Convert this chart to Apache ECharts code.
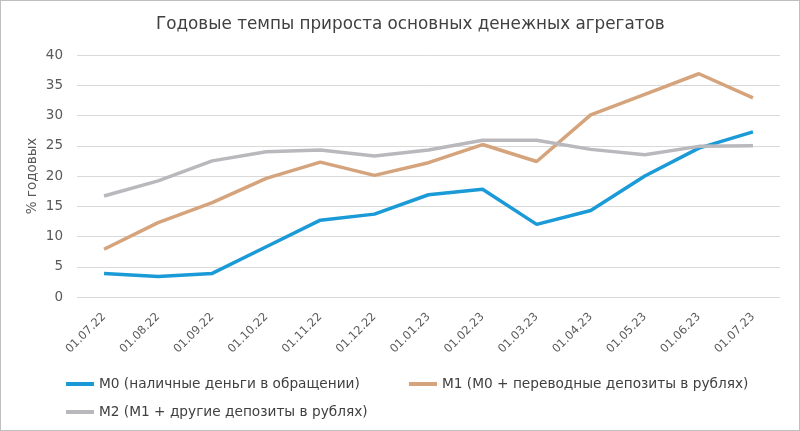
<!DOCTYPE html>
<html><head><meta charset="utf-8">
<script src="https://cdn.jsdelivr.net/npm/echarts@6/dist/echarts.min.js"></script>
<style>html,body{margin:0;padding:0;background:#fff}#c{width:798px;height:429px;border:1px solid #bfbfbf}</style>
</head><body><div id="c"></div>
<script>
const categories = ['01.07.22','01.08.22','01.09.22','01.10.22','01.11.22','01.12.22','01.01.23','01.02.23','01.03.23','01.04.23','01.05.23','01.06.23','01.07.23'];
const m0 = [3.9, 3.4, 3.9, 8.3, 12.7, 13.7, 16.9, 17.8, 12.0, 14.3, 20.0, 24.6, 27.3];
const m1 = [7.9, 12.3, 15.6, 19.6, 22.3, 20.1, 22.2, 25.2, 22.4, 30.1, 33.5, 36.9, 32.9];
const m2 = [16.7, 19.2, 22.5, 24.0, 24.3, 23.3, 24.3, 25.9, 25.9, 24.4, 23.5, 24.9, 25.0];
const names = ['M0 (наличные деньги в обращении)','M1 (M0 + переводные депозиты в рублях)','M2 (M1 + другие депозиты в рублях)'];
const colors = ['#1a9ad6','#d5a47c','#b9b9bd'];
const font = '"DejaVu Sans", sans-serif';
const chart = echarts.init(document.getElementById('c'));
const legendBase = {icon:'rect', itemWidth:28, itemHeight:4, textStyle:{fontSize:13.7,color:'#404040',fontFamily:font}, itemGap:4};
chart.setOption({
  animation:false,
  title:{text:'Годовые темпы прироста основных денежных агрегатов',left:150,top:10,textStyle:{fontSize:16.8,fontWeight:'normal',color:'#404040',fontFamily:font}},
  legend:[
    Object.assign({data:[names[0]],left:60,top:371},legendBase),
    Object.assign({data:[names[1]],left:403,top:371},legendBase),
    Object.assign({data:[names[2]],left:60,top:399},legendBase)
  ],
  grid:{left:76,right:19,top:54,bottom:133},
  xAxis:{type:'category',data:categories,boundaryGap:true,
    axisLine:{show:false},axisTick:{show:false},
    axisLabel:{rotate:45,fontSize:11.5,color:'#595959',fontFamily:font,margin:18,interval:0}},
  yAxis:{type:'value',min:0,max:40,interval:5,name:'% годовых',nameLocation:'middle',nameGap:38,nameMoveOverlap:false,
    nameTextStyle:{fontSize:13.5,color:'#595959',fontFamily:font},
    axisLabel:{fontSize:13.5,color:'#595959',fontFamily:font,margin:14},
    splitLine:{lineStyle:{color:'#d9d9d9',width:1}}},
  series:[
    {name:names[0],type:'line',data:m0,symbol:'none',lineStyle:{width:3.5,color:colors[0]},itemStyle:{color:colors[0]}},
    {name:names[1],type:'line',data:m1,symbol:'none',lineStyle:{width:3.5,color:colors[1]},itemStyle:{color:colors[1]}},
    {name:names[2],type:'line',data:m2,symbol:'none',lineStyle:{width:3.5,color:colors[2]},itemStyle:{color:colors[2]}}
  ]
});
</script></body></html>
